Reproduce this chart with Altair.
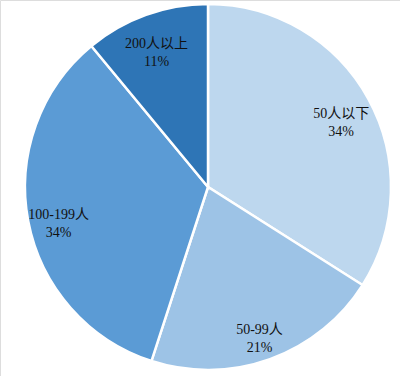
import altair as alt
import pandas as pd

categories = ["50人以下", "50-99人", "100-199人", "200人以上"]
values = [34, 21, 34, 11]
colors = ["#BDD7EE", "#9DC3E6", "#5B9BD5", "#2E75B6"]

df = pd.DataFrame({
    "cat": categories,
    "val": values,
    "idx": list(range(len(categories))),
})

base = alt.Chart(df).encode(
    theta=alt.Theta("val:Q", stack=True),
    order=alt.Order("idx:Q"),
    x=alt.value(208),
    y=alt.value(187),
)

pie = base.mark_arc(outerRadius=183, stroke="white", strokeWidth=2.5).encode(
    color=alt.Color("cat:N", scale=alt.Scale(domain=categories, range=colors), legend=None)
)

labels = base.transform_calculate(
    label="datum.cat + '\\n' + datum.val + '%'"
).mark_text(
    radius=152, fontSize=14, lineBreak="\n", lineHeight=18,
    font="Liberation Serif, Times New Roman, Noto Sans CJK SC", color="#111111",
).encode(text="label:N")

chart = (pie + labels).properties(
    width=400, height=376, padding=0, autosize=alt.AutoSizeParams(type="none")
).configure_view(stroke=None).configure(background="white")

chart.save("out.html", embed_options={"renderer": "svg", "actions": False})
